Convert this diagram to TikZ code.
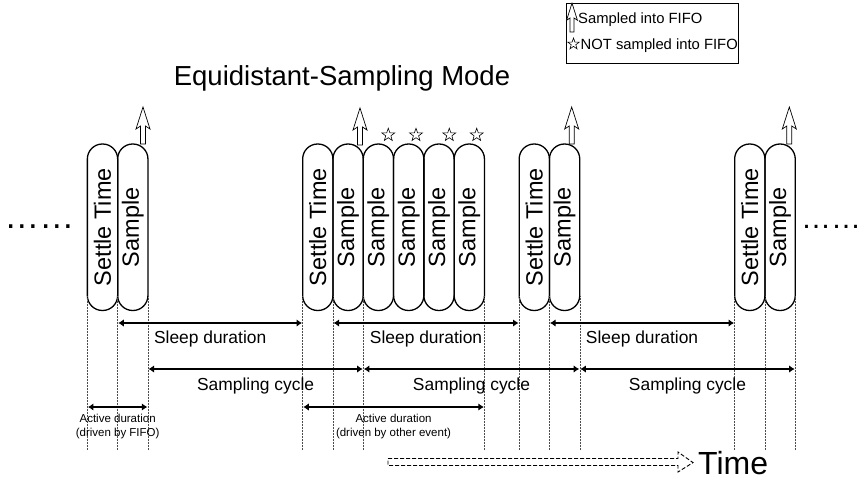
\documentclass[tikz,border=0pt]{standalone}
\usepackage{fontspec}
\setmainfont{Liberation Sans}
\usetikzlibrary{arrows.meta,shapes.geometric}
\newcommand\pilllabel[1]{\rotatebox{90}{#1}}
\begin{document}
\begin{tikzpicture}[x=1pt,y=-1pt,
  pill/.style={draw, line width=1.3pt, rounded corners=15pt, minimum width=30.3pt,
    minimum height=166.5pt, inner sep=0pt, outer sep=0pt, font=\fontsize{23.5}{23.5}\selectfont},
  guide/.style={densely dotted, line width=0.5pt, black!70},
  dim/.style={line width=2.4pt, {Latex[length=5.5pt,width=7.5pt]}-{Latex[length=5.5pt,width=7.5pt]},
    shorten <=0.6pt, shorten >=0.6pt},
  lbl/.style={font=\fontsize{17.4}{20}\selectfont, inner sep=0pt},
  leglbl/.style={font=\fontsize{14.8}{16}\selectfont, inner sep=0pt},
  smalllbl/.style={font=\fontsize{11.5}{14.5}\selectfont, align=center, inner sep=0pt},
  nstar/.style={star, star points=5, star point ratio=2.5, draw, line width=0.6pt,
    minimum size=13.5pt, inner sep=0pt},
  timearrow/.style={line width=0.9pt, dash pattern=on 4pt off 2pt},
  sampled/.pic={\draw[line width=0.7pt, fill=white, line join=miter]
    (-2.5,0) -- (-2.5,-18) -- (-7,-15) -- (0,-37) -- (7,-15) -- (2.5,-18) -- (2.5,0) -- cycle;},
]
\useasboundingbox[fill=white] (0,0) rectangle (863,483);

% title
\node[anchor=base, font=\fontsize{27.5}{27.5}\selectfont, inner sep=0pt] (title) at (342,85) {Equidistant-Sampling Mode};

% legend
\node[draw, line width=0.8pt, minimum width=172pt, minimum height=60pt, inner sep=0pt] (legend) at (652,33) {};
\pic[scale=0.78] at (572,32) {sampled};
\node[leglbl, anchor=base west] (leg1) at (578,23) {Sampled into FIFO};
\node[nstar, minimum size=12pt] (legstar) at (573.5,44) {};
\node[leglbl, anchor=base west] (leg2) at (580.5,49.5) {NOT sampled into FIFO};

% dots
\node[anchor=base west, font=\fontsize{35}{35}\selectfont, inner sep=0pt] (dotsl) at (4.2,228) {……};
\node[anchor=base west, font=\fontsize{30}{30}\selectfont, inner sep=0pt] (dotsr) at (801,228) {……};

% pills
\node[pill] (st1) at (102.5,227.25) {\pilllabel{Settle Time}};
\node[pill] (sa1) at (132.8,227.25) {\pilllabel{Sample}};

\node[pill] (st2) at (317.8,227.25) {\pilllabel{Settle Time}};
\node[pill] (sa2) at (348.1,227.25) {\pilllabel{Sample}};
\node[pill] (sa3) at (378.4,227.25) {\pilllabel{Sample}};
\node[pill] (sa4) at (408.7,227.25) {\pilllabel{Sample}};
\node[pill] (sa5) at (439.0,227.25) {\pilllabel{Sample}};
\node[pill] (sa6) at (469.3,227.25) {\pilllabel{Sample}};

\node[pill] (st3) at (534.3,227.25) {\pilllabel{Settle Time}};
\node[pill] (sa7) at (564.6,227.25) {\pilllabel{Sample}};

\node[pill] (st4) at (749.8,227.25) {\pilllabel{Settle Time}};
\node[pill] (sa8) at (780.1,227.25) {\pilllabel{Sample}};

% sampled arrows and stars
\pic at (143,144) {sampled};
\pic at (360,145) {sampled};
\pic at (571.7,144) {sampled};
\pic at (789.3,144) {sampled};
\node[nstar] (ns1) at (388.3,135) {};
\node[nstar] (ns2) at (416,135) {};
\node[nstar] (ns3) at (449.3,135) {};
\node[nstar] (ns4) at (476.7,135) {};

% guide lines
\coordinate (notch) at (0,296);
\coordinate (gend) at (0,450);
\foreach \p in {st1.west, sa1.west, sa1.east, st2.west, sa2.west, sa3.west, sa6.east,
                st3.west, sa7.west, sa7.east, st4.west, sa8.west, sa8.east}
  \draw[guide] (\p |- notch) -- (\p |- gend);

% dimension arrows
\coordinate (ysl) at (0,323);
\coordinate (ysc) at (0,369);
\coordinate (yac) at (0,407);
\draw[dim] (sa1.west |- ysl) -- node[midway, below=6.5pt, lbl] (lsl1) {Sleep duration} (st2.west |- ysl);
\draw[dim] (sa2.west |- ysl) -- node[midway, below=6.5pt, lbl] (lsl2) {Sleep duration} (st3.west |- ysl);
\draw[dim] (sa7.west |- ysl) -- node[midway, below=6.5pt, lbl] (lsl3) {Sleep duration} (st4.west |- ysl);

\draw[dim] (sa1.east |- ysc) -- node[midway, below=7.5pt, lbl] (lsc1) {Sampling cycle} (sa3.west |- ysc);
\draw[dim] (sa3.west |- ysc) -- node[midway, below=7.5pt, lbl] (lsc2) {Sampling cycle} (sa7.east |- ysc);
\draw[dim] (sa7.east |- ysc) -- node[midway, below=7.5pt, lbl] (lsc3) {Sampling cycle} (sa8.east |- ysc);

\draw[dim] (st1.west |- yac) -- node[midway, below=5.5pt, smalllbl] (lac1) {Active duration\\(driven by FIFO)} (sa1.east |- yac);
\draw[dim] (st2.west |- yac) -- node[midway, below=5.5pt, smalllbl] (lac2) {Active duration\\(driven by other event)} (sa6.east |- yac);

% time arrow
\node[anchor=base west, font=\fontsize{32}{32}\selectfont, inner sep=0pt] (time) at (698,474) {Time};
\coordinate (tstart) at (388,462);
\draw[timearrow] (tstart) ++(0,-3.5) -- (678,458.5) -- (678,452) -- ([xshift=-5pt]time.west)
  -- (678,472) -- (678,465.5) -- (388,465.5) -- cycle;
\end{tikzpicture}
\end{document}
